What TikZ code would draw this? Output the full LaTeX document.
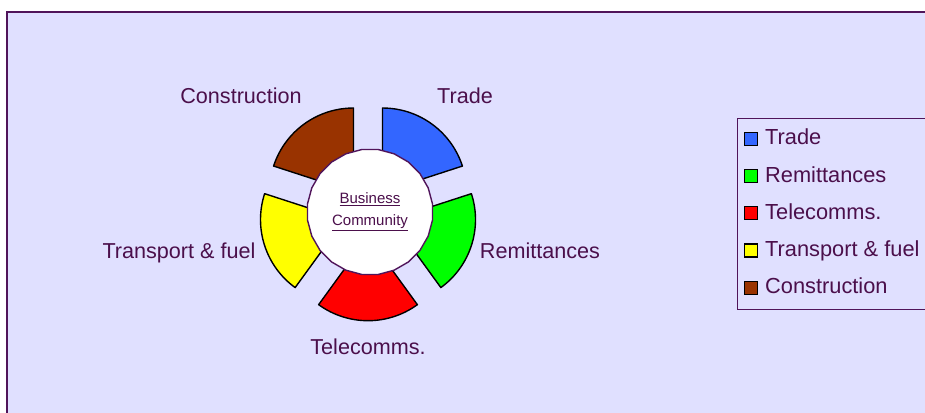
\documentclass[tikz,border=0pt]{standalone}
\usepackage{fontspec}
\setmainfont{Liberation Sans}
\usetikzlibrary{shapes.geometric}

\definecolor{framepurple}{RGB}{80,20,90}
\definecolor{textpurple}{RGB}{75,15,75}
\definecolor{paneback}{RGB}{224,224,255}
\definecolor{tradeblue}{RGB}{51,102,255}
\definecolor{remitgreen}{RGB}{0,255,0}
\definecolor{telered}{RGB}{255,0,0}
\definecolor{fuelyellow}{RGB}{255,255,0}
\definecolor{buildbrown}{RGB}{153,51,0}

\tikzset{
  slice/.style={draw=black, line width=1.4pt, line join=round},
  catlabel/.style={text=textpurple, font=\fontsize{21.6}{25}\selectfont, anchor=base},
  keybox/.style={draw=black, line width=1.2pt, minimum size=13pt, inner sep=0pt},
  keytext/.style={text=textpurple, font=\fontsize{21.8}{25}\selectfont, anchor=base west, inner sep=0pt},
}

\begin{document}
\begin{tikzpicture}
  [x=1pt,y=1pt]
  \useasboundingbox (0,0) rectangle (925,412);
  \fill[white] (0,0) rectangle (925,412);
  \draw[framepurple, line width=2pt, fill=paneback] (7,400) rectangle (940,-10);
  % exploded ring: start angle / colour
  \foreach \start/\col in {18/tradeblue, -54/remitgreen, -126/telered, 162/fuelyellow, 90/buildbrown}
    \draw[slice, fill=\col] (368,200) ++(\start+36:24.7) -- ++(\start:84)
      arc[start angle=\start, end angle=\start+72, radius=84] -- cycle;
  \node[regular polygon, regular polygon sides=24, minimum size=126pt, inner sep=0pt,
    draw=framepurple, line width=1.4pt, fill=white, align=center, text=textpurple,
    font=\fontsize{15}{22}\selectfont] (hub) at (370,200) {\underline{Business}\\\underline{Community}};
  \node[catlabel] (tradelbl) at (465,308) {Trade};
  \node[catlabel] (buildlbl) at (241,308) {Construction};
  \node[catlabel] (remitlbl) at (540,153) {Remittances};
  \node[catlabel] (fuellbl) at (179,153) {Transport \& fuel};
  \node[catlabel] (telelbl) at (368,58) {Telecomms.};
  % legend
  \draw[framepurple, line width=1pt] (737,293) rectangle (940,102);
  \foreach \name/\col [count=\i from 0] in {Trade/tradeblue, Remittances/remitgreen,
      Telecomms./telered, Transport \& fuel/fuelyellow, Construction/buildbrown} {
    \node[keybox, fill=\col] (key\i) at (751,273-37.2*\i) {};
    \node[keytext] (keylbl\i) at (765,267-37.2*\i) {\name};
  }
\end{tikzpicture}
\end{document}
